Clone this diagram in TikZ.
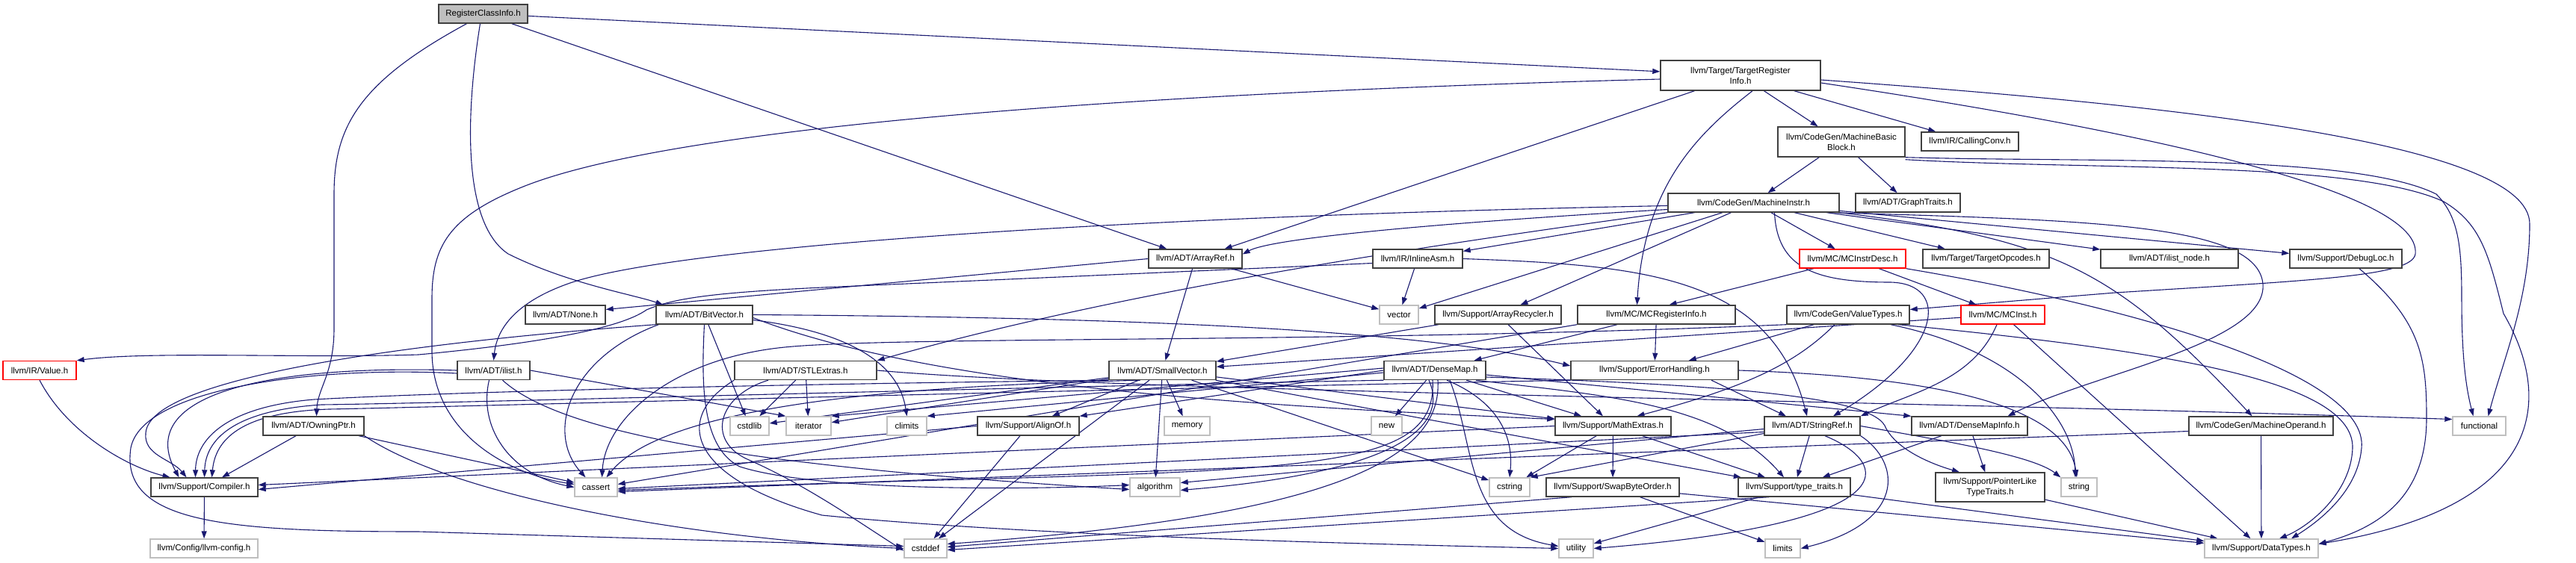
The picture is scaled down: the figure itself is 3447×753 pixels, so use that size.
\documentclass[tikz,border=0pt]{standalone}
\usepackage{fontspec}
\setmainfont{Liberation Sans}
\usetikzlibrary{arrows.meta}
\definecolor{edgec}{RGB}{25,25,112}
\definecolor{ndc}{RGB}{64,64,64}
\definecolor{sysc}{RGB}{191,191,191}
\definecolor{redc}{RGB}{255,0,0}
\definecolor{rootc}{RGB}{191,191,191}
\pgfdeclarelayer{edgelayer}
\pgfsetlayers{edgelayer,main}
\begin{document}
\begin{tikzpicture}[x=1pt,y=-1pt,
  nd/.style={draw=ndc, line width=1.4pt, fill=white, inner sep=0pt, minimum height=25pt, align=center, font=\fontsize{11.5}{14}\selectfont},
  sysn/.style={nd, draw=sysc},
  trn/.style={nd, draw=redc},
  rootn/.style={nd, fill=rootc},
  e/.style={draw=edgec, line width=1.1pt, -{Triangle[length=10pt,width=7pt]}},
]
\useasboundingbox (0,0) rectangle (3447,753);
% row 0-3
\node[rootn, minimum width=119pt] (rci) at (646.5,18.5) {RegisterClassInfo.h};
\node[nd, minimum width=214pt, minimum height=40pt] (tri) at (2329,101) {llvm/Target/TargetRegister\\Info.h};
\node[nd, minimum width=170pt, minimum height=40pt] (mbb) at (2464,190) {llvm/CodeGen/MachineBasic\\Block.h};
\node[nd, minimum width=130pt] (cc) at (2636,189.5) {llvm/IR/CallingConv.h};
\node[nd, minimum width=229pt] (mi) at (2346.5,271.5) {llvm/CodeGen/MachineInstr.h};
\node[nd, minimum width=140pt] (gt) at (2553,271.5) {llvm/ADT/GraphTraits.h};
% row 4
\node[nd, minimum width=125pt] (ar) at (1599.5,346.5) {llvm/ADT/ArrayRef.h};
\node[nd, minimum width=120pt] (ia) at (1897,346.5) {llvm/IR/InlineAsm.h};
\node[trn, minimum width=142pt] (mcid) at (2479,346.5) {llvm/MC/MCInstrDesc.h};
\node[nd, minimum width=169pt] (to) at (2657.5,346.5) {llvm/Target/TargetOpcodes.h};
\node[nd, minimum width=184pt] (iln) at (2903,346.5) {llvm/ADT/ilist\_node.h};
\node[nd, minimum width=150pt] (dl) at (3139,346.5) {llvm/Support/DebugLoc.h};
% row 5
\node[nd, minimum width=107pt] (none) at (756.5,421.5) {llvm/ADT/None.h};
\node[nd, minimum width=129pt] (bv) at (942.5,421.5) {llvm/ADT/BitVector.h};
\node[sysn, minimum width=52pt] (hvector) at (1872,421.5) {vector};
\node[nd, minimum width=169pt] (arec) at (2004.5,421.5) {llvm/Support/ArrayRecycler.h};
\node[nd, minimum width=211pt] (mcri) at (2216.5,421.5) {llvm/MC/MCRegisterInfo.h};
\node[nd, minimum width=164pt] (vt) at (2473,421.5) {llvm/CodeGen/ValueTypes.h};
\node[trn, minimum width=112pt] (mci) at (2680,421.5) {llvm/MC/MCInst.h};
% row 6
\node[trn, minimum width=98pt] (val) at (53,496) {llvm/IR/Value.h};
\node[nd, minimum width=97pt] (il) at (660.5,496) {llvm/ADT/ilist.h};
\node[nd, minimum width=190pt] (stl) at (1078,496) {llvm/ADT/STLExtras.h};
\node[nd, minimum width=143pt] (sv) at (1555.5,496) {llvm/ADT/SmallVector.h};
\node[nd, minimum width=136pt] (dm) at (1920,496) {llvm/ADT/DenseMap.h};
\node[nd, minimum width=224pt] (eh) at (2214,496) {llvm/Support/ErrorHandling.h};
% row 7
\node[nd, minimum width=135pt] (op) at (419.5,570.5) {llvm/ADT/OwningPtr.h};
\node[sysn, minimum width=52pt] (hcstdlib) at (1003,570.5) {cstdlib};
\node[sysn, minimum width=60pt] (hiter) at (1082,570.5) {iterator};
\node[sysn, minimum width=53pt] (hclimits) at (1213.5,570.5) {climits};
\node[nd, minimum width=136pt] (ao) at (1376,570.5) {llvm/Support/AlignOf.h};
\node[sysn, minimum width=61pt] (hmemory) at (1588.5,570.5) {memory};
\node[sysn, minimum width=41pt] (hnew) at (1855.5,570.5) {new};
\node[nd, minimum width=155pt] (me) at (2158.5,570.5) {llvm/Support/MathExtras.h};
\node[nd, minimum width=128pt] (sr) at (2425,570.5) {llvm/ADT/StringRef.h};
\node[nd, minimum width=155pt] (dmi) at (2635.5,570.5) {llvm/ADT/DenseMapInfo.h};
\node[nd, minimum width=193pt] (mo) at (3025.5,570.5) {llvm/CodeGen/MachineOperand.h};
\node[sysn, minimum width=71pt] (hfunc) at (3317.5,570.5) {functional};
% row 8
\node[nd, minimum width=143pt] (comp) at (273.5,652.5) {llvm/Support/Compiler.h};
\node[sysn, minimum width=57pt] (hcassert) at (797.5,652.5) {cassert};
\node[sysn, minimum width=67pt] (halgo) at (1545.5,652.5) {algorithm};
\node[sysn, minimum width=54pt] (hcstring) at (2020,652.5) {cstring};
\node[nd, minimum width=178pt] (sbo) at (2158,652.5) {llvm/Support/SwapByteOrder.h};
\node[nd, minimum width=150pt] (tt) at (2401,652.5) {llvm/Support/type\_traits.h};
\node[nd, minimum width=146pt, minimum height=39pt] (pltt) at (2663,652.5) {llvm/Support/PointerLike\\TypeTraits.h};
\node[sysn, minimum width=48pt] (hstring) at (2782,652.5) {string};
% row 9
\node[sysn, minimum width=144pt] (cfg) at (273,734.5) {llvm/Config/llvm-config.h};
\node[sysn, minimum width=57pt] (hcstddef) at (1238.5,734.5) {cstddef};
\node[sysn, minimum width=46pt] (hutil) at (2109,734.5) {utility};
\node[sysn, minimum width=47pt] (hlimits) at (2385.5,734.5) {limits};
\node[sysn, minimum width=152pt] (dt) at (3026,734.5) {llvm/Support/DataTypes.h};

\begin{pgfonlayer}{edgelayer}
% RegisterClassInfo.h
\draw[e] (rci) -- (tri);
\draw[e] (rci) -- (ar);
\draw[e] ([xshift=-4pt]rci.south) .. controls (622,160) and (620,300) .. (680,340) .. controls (760,380) and (850,395) .. ([xshift=10pt]bv.north west);
\draw[e] ([xshift=-22pt]rci.south) .. controls (480,110) and (447,170) .. (447,260) -- (447,440) .. controls (447,500) and (425,520) .. ([xshift=4pt]op.north);
% TargetRegisterInfo.h
\draw[e] (tri) -- (ar);
\draw[e] (tri) -- (mbb);
\draw[e] (tri) -- (cc);
\draw[e] ([xshift=16pt]tri.south) .. controls (2270,180) and (2200,250) .. ([xshift=-26pt]mcri.north);
\draw[e] ([yshift=-5pt]tri.west) .. controls (1500,125) and (900,170) .. (700,250) .. controls (600,290) and (578,330) .. (578,400) -- (578,470) .. controls (578,580) and (680,635) .. ([yshift=4pt]hcassert.west);
\draw[e] ([yshift=-6pt]tri.east) .. controls (2900,140) and (3385,190) .. (3385,300) .. controls (3385,400) and (3350,480) .. ([xshift=12pt]hfunc.north);
\draw[e] ([yshift=-10pt]tri.east) .. controls (2900,180) and (3240,260) .. (3232,340) .. controls (3228,370) and (3100,375) .. (2830,392) -- ([yshift=7pt]vt.east);
% MachineBasicBlock.h
\draw[e] (mbb) -- (mi);
\draw[e] (mbb) -- (gt);
\draw[e] (mbb.south east) .. controls (2800,218) and (3150,205) .. (3260,260) .. controls (3290,290) and (3294,330) .. (3294,400) .. controls (3294,480) and (3300,520) .. ([xshift=-8pt]hfunc.north);
\draw[e] ([yshift=-3pt]mbb.south east) .. controls (2800,228) and (3150,215) .. (3270,270) .. controls (3320,300) and (3330,340) .. (3350,420) .. controls (3420,540) and (3400,680) .. ([yshift=6pt]dt.east);
% MachineInstr.h
\draw[e] ([yshift=-9pt]mi.west) .. controls (1900,300) and (1700,320) .. ([yshift=6pt]ar.east);
\draw[e] ([yshift=-4pt]mi.west) .. controls (1500,290) and (900,330) .. (760,380) .. controls (690,405) and (665,440) .. (il.north);
\draw[e] (mi.south west) .. controls (1900,330) and (1500,390) .. (stl.north east);
\draw[e] (mi) -- (ia);
\draw[e] (mi) -- (hvector);
\draw[e] (mi) -- (arec);
\draw[e] (mi) -- (mcid);
\draw[e] (mi) -- (to);
\draw[e] (mi) -- (iln);
\draw[e] (mi) -- (dl);
\draw[e] ([xshift=-10pt]mi.south east) .. controls (2800,295) and (3020,300) .. (3028,380) .. controls (3035,460) and (2800,500) .. ([xshift=51pt]dmi.north);
\draw[e] (mi.south east) .. controls (2750,320) and (2830,360) .. ([xshift=-12pt]mo.north);
\draw[e] ([xshift=28pt]mi.south) .. controls (2378,360) and (2430,378) .. (2530,378) .. controls (2610,380) and (2600,470) .. ([xshift=28pt]sr.north);
% ArrayRef.h
\draw[e] (ar.west) -- ([yshift=7pt]none.east);
\draw[e] (ar) -- (sv);
\draw[e] (ar) -- (hvector);
% InlineAsm.h
\draw[e] (ia) -- (hvector);
\draw[e] (ia.east) .. controls (2200,355) and (2370,370) .. ([xshift=-7pt]sr.north);
\draw[e] ([yshift=-6pt]ia.west) -- (1100,385) .. controls (950,392) and (900,400) .. (865,415) .. controls (830,440) and (720,460) .. (560,475) .. controls (400,480) and (200,470) .. (val.north east);
% MCInstrDesc.h
\draw[e] (mcid) -- ([xshift=17pt]mcri.north);
\draw[e] (mcid) -- (mci);
\draw[e] (mcid.south east) .. controls (2850,410) and (3170,500) .. (3160,600) .. controls (3155,660) and (3100,700) .. ([xshift=40pt]dt.north);
% MCInst.h
\draw[e] (mci) -- (sv);
\draw[e] ([xshift=-8pt]mci.south) .. controls (2640,510) and (2560,525) .. (sr.north east);
\draw[e] (mci) -- (dt);
% DebugLoc.h
\draw[e] ([xshift=18pt]dl.south) .. controls (3240,430) and (3247,480) .. (3247,560) .. controls (3247,660) and (3190,705) .. ([yshift=6pt]dt.east);
% BitVector.h
\draw[e] (bv.south west) .. controls (600,455) and (200,500) .. (195,580) .. controls (192,610) and (230,615) .. ([xshift=-24pt]comp.north);
\draw[e] (bv.east) .. controls (1500,425) and (1900,440) .. ([yshift=6pt]eh.west);
\draw[e] ([yshift=-4pt]bv.east) .. controls (1250,520) and (1700,545) .. ([yshift=9pt]me.west);
\draw[e] (bv.south) .. controls (938,520) and (940,600) .. (990,625) .. controls (1100,660) and (1400,655) .. ([yshift=3pt]halgo.west);
\draw[e] ([xshift=4pt]bv.south west) .. controls (760,480) and (730,580) .. ([xshift=-14pt]hcassert.north);
\draw[e] ([yshift=-7pt]bv.east) .. controls (1100,440) and (1200,470) .. (hclimits.north);
\draw[e] (bv) -- (hcstdlib);
% ArrayRecycler.h
\draw[e] (arec) -- (sv);
\draw[e] (arec) -- (me);
% MCRegisterInfo.h
\draw[e] (mcri) -- (dm);
\draw[e] (mcri) -- (eh);
\draw[e] (mcri.south west) -- ([yshift=4pt]hcassert.east);
% ValueTypes.h
\draw[e] (vt) -- (eh);
\draw[e] ([xshift=-18pt]vt.south) .. controls (2400,490) and (2330,520) .. ([xshift=32pt]me.north);
\draw[e] (vt.south west) .. controls (1800,460) and (1200,450) .. (1050,465) .. controls (900,480) and (810,560) .. ([xshift=8pt]hcassert.north);
\draw[e] ([xshift=57pt]vt.south) .. controls (2700,470) and (2775,560) .. ([xshift=-5pt]hstring.north);
\draw[e] ([xshift=67pt]vt.south) .. controls (2900,470) and (3150,510) .. (3148,600) .. controls (3146,660) and (3090,705) .. ([xshift=24pt]dt.north);
% Value.h
\draw[e] (val.south) .. controls (90,580) and (170,625) .. ([xshift=-46pt]comp.north);
% ilist.h
\draw[e] (il.west) .. controls (350,488) and (180,530) .. ([xshift=-34pt]comp.north);
\draw[e] (il.east) -- (hiter.north west);
\draw[e] ([xshift=-6pt]il.south) .. controls (640,570) and (680,635) .. (hcassert.west);
\draw[e] ([xshift=12pt]il.south) .. controls (750,580) and (1000,625) .. ([yshift=-3pt]halgo.west);
\draw[e] ([yshift=-4pt]il.west) .. controls (420,490) and (190,520) .. (175,600) .. controls (160,700) and (300,712) .. (560,712) -- ([yshift=3pt]hcstddef.west);
% STLExtras.h
\draw[e] (stl) -- (hcstdlib);
\draw[e] (stl) -- (hiter);
\draw[e] (stl.east) .. controls (1500,525) and (2500,535) .. ([yshift=9pt]hfunc.west);
\draw[e] (stl.south west) .. controls (900,560) and (920,640) .. (1100,690) .. controls (1400,720) and (1900,730) .. (hutil.west);
\draw[e] ([xshift=-50pt]stl.south) .. controls (960,530) and (945,590) .. (1000,615) .. controls (1080,650) and (1150,700) .. ([yshift=-3pt]hcstddef.west);
% SmallVector.h
\draw[e] (sv) -- (ao);
\draw[e] (sv.south west) .. controls (1000,515) and (600,525) .. (420,535) .. controls (300,545) and (262,590) .. ([xshift=-12pt]comp.north);
\draw[e] (sv) -- (me);
\draw[e] (sv) -- (tt);
\draw[e] (sv) -- (halgo);
\draw[e] ([xshift=-30pt]sv.south) .. controls (1300,515) and (900,530) .. ([xshift=14pt]hcassert.north);
\draw[e] (sv) -- (hcstddef);
\draw[e] (sv) -- (hcstdlib);
\draw[e] (sv) -- (hcstring);
\draw[e] (sv) -- (hiter);
\draw[e] (sv) -- (hmemory);
% DenseMap.h
\draw[e] ([yshift=-6pt]dm.east) -- (dmi.north west);
\draw[e] (dm.west) -- (ao.north east);
\draw[e] (dm.south west) .. controls (1300,520) and (600,540) .. (430,542) .. controls (310,550) and (275,590) .. (comp.north);
\draw[e] (dm) -- (me);
\draw[e] ([yshift=-9pt]dm.east) .. controls (2300,515) and (2500,530) .. (2522,570) .. controls (2535,600) and (2580,620) .. ([xshift=-41pt]pltt.north);
\draw[e] ([xshift=55pt]dm.south) .. controls (2150,530) and (2300,540) .. ([xshift=-14pt]tt.north);
\draw[e] ([xshift=-8pt]dm.south) .. controls (1935,560) and (1900,630) .. ([yshift=-4pt]halgo.east);
\draw[e] ([xshift=-3pt]dm.south) .. controls (1925,650) and (1700,625) .. ([yshift=-4pt]hcassert.east);
\draw[e] ([yshift=-3pt]dm.west) -- (hclimits.north east);
\draw[e] ([yshift=3pt]dm.west) -- (hiter.north east);
\draw[e] ([xshift=4pt]dm.south) .. controls (1930,610) and (1800,690) .. ([yshift=6pt]hcstddef.east);
\draw[e] ([xshift=16pt]dm.south) .. controls (2010,540) and (2025,590) .. (hcstring.north);
\draw[e] ([xshift=20pt]dm.south) .. controls (1975,600) and (1960,710) .. ([yshift=3pt]hutil.west);
\draw[e] (dm) -- (hnew);
% ErrorHandling.h
\draw[e] ([xshift=76pt]eh.south) -- ([xshift=-35pt]sr.north);
\draw[e] (eh.south west) .. controls (1300,525) and (600,545) .. (440,548) .. controls (320,552) and (288,590) .. ([xshift=10pt]comp.north);
\draw[e] (eh.east) .. controls (2600,505) and (2765,545) .. ([xshift=-3pt]hstring.north);
% OwningPtr.h
\draw[e] (op) -- (comp);
\draw[e] (op) -- (hcassert);
\draw[e] (op.south east) .. controls (600,660) and (900,720) .. (hcstddef.west);
% AlignOf.h
\draw[e] (ao.west) -- ([yshift=-3pt]comp.east);
\draw[e] (ao) -- (hcstddef);
% MathExtras.h
\draw[e] (me.west) -- ([yshift=3pt]comp.east);
\draw[e] (me) -- (sbo);
\draw[e] (me) -- (tt);
\draw[e] (me) -- (hcstring);
% StringRef.h
\draw[e] (sr) -- (tt);
\draw[e] (sr.south east) .. controls (2545,620) and (2550,700) .. (hlimits.east);
\draw[e] ([xshift=17pt]sr.south) .. controls (2530,620) and (2560,700) .. (hutil.east);
\draw[e] (sr.east) .. controls (2600,590) and (2720,610) .. (hstring.north west);
\draw[e] ([yshift=-4pt]sr.west) -- ([yshift=6pt]halgo.east);
\draw[e] ([yshift=-8pt]sr.west) -- ([yshift=-2pt]hcassert.east);
\draw[e] ([yshift=-10pt]sr.west) -- (hcstring.north east);
% DenseMapInfo.h
\draw[e] (dmi) -- (pltt);
\draw[e] (dmi) -- (tt);
% MachineOperand.h
\draw[e] (mo) -- (dt);
\draw[e] ([yshift=-7pt]mo.west) -- ([yshift=-6pt]hcassert.east);
% Compiler.h
\draw[e] (comp) -- (cfg);
% SwapByteOrder.h
\draw[e] ([xshift=-55pt]sbo.south) -- ([yshift=2pt]hcstddef.east);
\draw[e] (sbo) -- (hlimits);
\draw[e] (sbo) -- (dt);
% type_traits.h
\draw[e] (tt) -- (dt);
\draw[e] ([xshift=-34pt]tt.south) -- ([yshift=-2pt]hcstddef.east);
\draw[e] (tt) -- (hutil);
% PointerLikeTypeTraits.h
\draw[e] (pltt) -- (dt);
\end{pgfonlayer}
\end{tikzpicture}
\end{document}
